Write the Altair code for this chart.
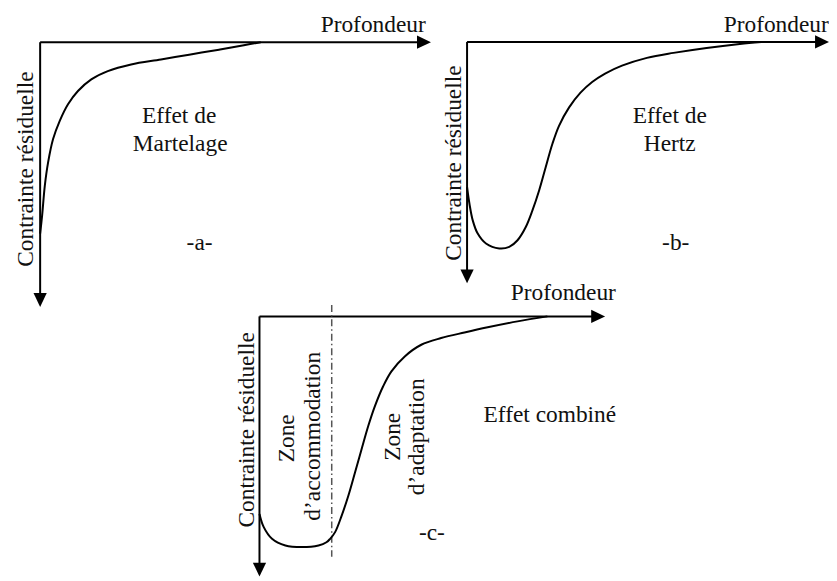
import altair as alt
import pandas as pd

# ---------------- data (reference pixel coordinates) ----------------
# Panel a : "Effet de Martelage"
a_x = [40.3, 42.3, 45, 48.3, 53.3, 60, 68.3, 78.3, 91.7, 108.3, 131.7, 161.7, 190,
       220, 245, 262]
a_y = [233.3, 215, 185, 161.7, 138.3, 120, 103.3, 90, 78.3, 70, 63.3, 58.3, 53.5,
       48.5, 44, 41]

# Panel b : "Effet de Hertz"
b_x = [469.3, 471.7, 475, 480, 488.3, 501.7, 511.7, 520, 528.3, 535, 541.7, 548.3,
       555, 561.7, 571.7, 583.3, 595, 608, 625, 650, 676.7, 710, 743.3, 765]
b_y = [186.7, 203.3, 220, 233.3, 243.3, 248.3, 246.7, 240, 226.7, 210, 190, 166.7,
       143.3, 125, 106.7, 91.7, 81, 72.5, 64.5, 56.7, 51.7, 46.7, 42.7, 40.7]

# Panel c : "Effet combiné"
c_x = [260.7, 265, 273.3, 286.7, 303.3, 320, 328, 331.7, 336.7, 343.3, 350, 356.7,
       363.3, 370, 376.7, 385, 393.3, 406.7, 423.3, 443.3, 466.7, 490, 520, 550]
c_y = [515, 528.3, 540, 546.7, 548.3, 546.7, 543.5, 540, 533.3, 516.7, 496.7, 473.3,
       450, 426.7, 406.7, 386.7, 371.7, 356.7, 345, 338.3, 332.7, 327.5, 321.5, 316.5]

# axes (x, y, x2, y2)
ax_x1 = [40.3, 40.3, 469.3, 469.3, 260.7, 260.7]
ax_y1 = [41, 41, 40.7, 40.7, 316.5, 316.5]
ax_x2 = [422, 40.3, 822, 469.3, 597, 260.7]
ax_y2 = [41, 296, 40.7, 272, 316.5, 567]

# arrow tips
tip_x = [433, 40.3, 833, 469.3, 608, 260.7]
tip_y = [41, 307, 40.7, 283.3, 316.5, 578]
tip_dir = ["right", "down", "right", "down", "right", "down"]

# dash-dot separator in panel c
sep_x = [333.3]
sep_y1 = [305]
sep_y2 = [558]

# horizontal texts
h_text = ["Profondeur", "Effet de", "Martelage", "-a-",
          "Profondeur", "Effet de", "Hertz", "-b-",
          "Profondeur", "Effet combiné", "-c-"]
h_x = [375, 180, 181, 200.5, 780, 673, 673, 679, 566, 552.5, 434]
h_y = [31, 121.7, 150, 250, 31, 122, 150, 250, 300, 423, 541.7]

# vertical texts (rotated, reading upwards)
v_text = ["Contrainte résiduelle", "Contrainte résiduelle", "Contrainte résiduelle",
          "Zone", "d\u2019accommodation", "Zone", "d\u2019adaptation"]
v_x = [33, 463, 255, 295, 321.7, 401.7, 426]
v_y = [168.5, 162.5, 430.5, 439, 437, 437.5, 437.5]

# ---------------- build tables ----------------
curves = pd.DataFrame({
    "x": a_x + b_x + c_x,
    "y": a_y + b_y + c_y,
    "panel": ["a"] * len(a_x) + ["b"] * len(b_x) + ["c"] * len(c_x),
})
axes_df = pd.DataFrame({"x": ax_x1, "y": ax_y1, "x2": ax_x2, "y2": ax_y2})
R = 7  # arrowhead half-length
tips = pd.DataFrame({
    "x": [x - R if d == "right" else x for x, d in zip(tip_x, tip_dir)],
    "y": [y - R if d == "down" else y for y, d in zip(tip_y, tip_dir)],
    "dir": tip_dir,
})
sep_df = pd.DataFrame({"x": sep_x, "y": sep_y1, "y2": sep_y2})
htxt = pd.DataFrame({"t": h_text, "x": h_x, "y": h_y})
vtxt = pd.DataFrame({"t": v_text, "x": v_x, "y": v_y})

W, H = 821, 565
xs = alt.Scale(domain=[8, 8 + W], nice=False, zero=False)
ys = alt.Scale(domain=[8, 8 + H], nice=False, zero=False, reverse=True)
X = lambda f="x": alt.X(f"{f}:Q", scale=xs, axis=None)
Y = lambda f="y": alt.Y(f"{f}:Q", scale=ys, axis=None)

FONT = "Liberation Serif"
FS = 23.5
TXT = "#111111"

curve_layer = alt.Chart(curves).mark_line(
    color="black", strokeWidth=2, interpolate="catmull-rom"
).encode(x=X(), y=Y(), detail="panel:N")

axes_layer = alt.Chart(axes_df).mark_rule(color="black", strokeWidth=2).encode(
    x=X(), y=Y(), x2="x2:Q", y2="y2:Q"
)

right_arrows = alt.Chart(tips).transform_filter(alt.datum.dir == "right").mark_point(
    shape="M 1 0 L -1 -0.95 L -1 0.95 Z", filled=True, color="black", opacity=1,
    size=4 * R * R
).encode(x=X(), y=Y())

down_arrows = alt.Chart(tips).transform_filter(alt.datum.dir == "down").mark_point(
    shape="M 0 1 L -0.95 -1 L 0.95 -1 Z", filled=True, color="black", opacity=1,
    size=4 * R * R
).encode(x=X(), y=Y())

sep_layer = alt.Chart(sep_df).mark_rule(
    color="#555555", strokeWidth=1.5, strokeDash=[7, 3, 1.5, 3]
).encode(x=X(), y=Y(), y2="y2:Q")

htext_layer = alt.Chart(htxt).mark_text(
    font=FONT, fontSize=FS, color=TXT, align="center", baseline="alphabetic"
).encode(x=X(), y=Y(), text="t:N")

vtext_layer = alt.Chart(vtxt).mark_text(
    font=FONT, fontSize=FS, color=TXT, align="center", baseline="alphabetic",
    angle=270
).encode(x=X(), y=Y(), text="t:N")

chart = alt.layer(
    axes_layer, sep_layer, curve_layer, right_arrows, down_arrows,
    htext_layer, vtext_layer
).properties(
    width=W, height=H, padding=0, background="white"
).configure_view(stroke=None)

chart.save("out.html", embed_options={"renderer": "svg", "actions": False})
